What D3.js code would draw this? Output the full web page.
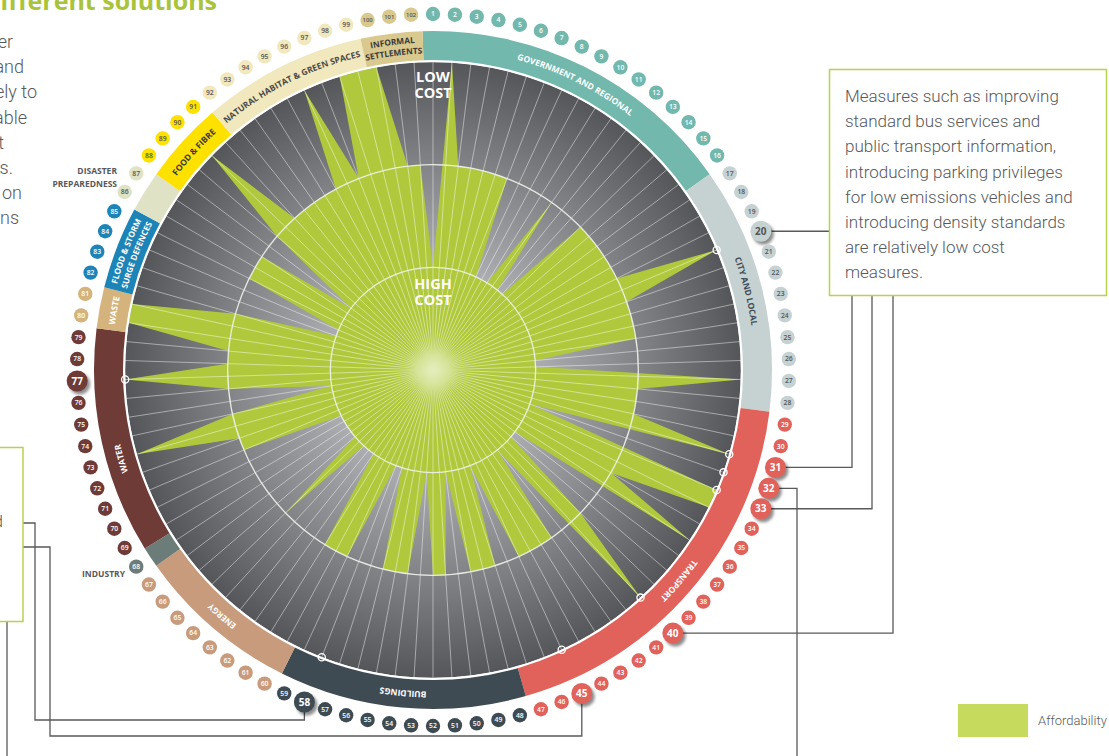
<!DOCTYPE html>
<html><head><meta charset="utf-8">
<script src="https://cdn.jsdelivr.net/npm/d3@7"></script>
<style>body{margin:0;background:#fff}svg{display:block}</style>
</head><body>
<svg id="chart" width="1109" height="756"></svg>
<script>
// Measures numbered 1..102 around the wheel; affordability score 0 (high cost, centre) .. 3 (low cost, rim)
const affordability = [
 1,3,2,2,2,2,2,1,1,1, 2,1,1,2,2,2,2,2,2,3,
 2,2,2,2,1,1,3,2,2,2, 3,1,3,3,2,3,1,1,2,3,
 1,2,2,2,2,1,2,2,2,1, 2,2,1,2,2,2,1,1,2,2,
 2,1,1,1,2,1,1,1,1,1, 2,2,3,2,1,2,3,2,2,3,
 3,2,1,1,2,2,2,1,2,3, 2,2,2,2,2,3,2,3,3,3,
 2,2
];
const highlighted = [20,31,32,33,40,45,58,77];

// Sector groups around the rim
const sectorLabels = [["GOVERNMENT AND REGIONAL"],["CITY AND LOCAL"],["TRANSPORT"],["BUILDINGS"],["ENERGY"],[],["WATER"],["WASTE"],["FLOOD & STORM","SURGE DEFENCES"],[],["FOOD & FIBRE"],["NATURAL HABITAT & GREEN SPACES"],["INFORMAL","SETTLEMENTS"]];
const sectorFirst = [1,17,29,48,60,68,69,80,82,86,88,92,100];
const sectorLast  = [16,28,47,59,67,68,79,81,85,87,91,99,102];
const sectorLabelAt = [8.5,22.5,38,53.5,63.5,68,73,80.5,83.5,86.5,89.5,95.5,101];
const sectorColors = ["#72b8ad","#c6d2d2","#e0625b","#3e4b53","#c79b7c","#6b7c79","#6e3b37","#d4b37c","#1c84b6","#dfe2c5","#ffe100","#f2e8bd","#d9c98e"];
const sectorInk = ["#fff","#3e4b53","#fff","#fff","#fff","#fff","#fff","#fff","#fff","#555","#3a3a3a","#4a4a4a","#3a3a3a"];

const noteLines = ["Measures such as improving","standard bus services and","public transport information,","introducing parking privileges","for low emissions vehicles and","introducing density standards","are relatively low cost","measures."];
const introFragments = ["er","and","ely to","able","t","ts.","on","ons"];
const introRightEdges = [13,24,37,27,4,13,22,19];

const svg = d3.select("#chart");
const cx = 433, cy = 370;
const rDisk = 308, rBandIn = 310, rBandOut = 339, rNum = 356;
const n = affordability.length;

const angle = d3.scaleLinear().domain([1, n + 1]).range([0, 2 * Math.PI]);
const radius = d3.scaleLinear().domain([0, 3]).range([0, rDisk]);
const pt = (a, r) => [cx + r * Math.sin(a), cy - r * Math.cos(a)];

const defs = svg.append("defs");
const g1 = defs.append("radialGradient").attr("id","disk").attr("cx",cx).attr("cy",cy).attr("r",rDisk).attr("gradientUnits","userSpaceOnUse");
[[0,"#d2d3d5"],[0.35,"#a9abae"],[0.7,"#7d7f82"],[1,"#55565a"]].forEach(s=>g1.append("stop").attr("offset",s[0]).attr("stop-color",s[1]));
const g2 = defs.append("radialGradient").attr("id","glow");
[[0,"#e4edbb",1],[0.5,"#d6e49a",0.8],[1,"#c4d670",0]].forEach(s=>g2.append("stop").attr("offset",s[0]).attr("stop-color",s[1]).attr("stop-opacity",s[2]));
const sh = defs.append("filter").attr("id","shadow").attr("x","-50%").attr("y","-50%").attr("width","200%").attr("height","200%");
sh.append("feGaussianBlur").attr("stdDeviation",1.8);

// Title and intro column
svg.append("text").attr("x",217).attr("y",10).attr("text-anchor","end")
  .attr("font-family","Open Sans").attr("font-weight",700).attr("font-size",25).attr("fill","#a9c43a")
  .text("different solutions");
svg.selectAll("text.intro").data(introFragments).join("text").attr("class","intro")
  .attr("x",(d,i)=>introRightEdges[i]).attr("y",(d,i)=>48+25.2*i).attr("text-anchor","end")
  .attr("font-family","Roboto").attr("font-weight",300).attr("font-size",18).attr("fill","#58595b").text(d=>d);

// Chart body
const wheel = svg.append("g");
wheel.append("circle").attr("cx",cx).attr("cy",cy).attr("r",rDisk).attr("fill","url(#disk)");

const radial = d3.lineRadial().angle((d,i)=>angle(i+1)).radius(d=>radius(d)).curve(d3.curveLinearClosed);
wheel.append("path").attr("transform",`translate(${cx},${cy})`).attr("d",radial(affordability)).attr("fill","#b0c93c");

wheel.selectAll("line.spoke").data(d3.range(1,n+1)).join("line").attr("class","spoke")
  .attr("x1",cx).attr("y1",cy)
  .attr("x2",d=>pt(angle(d),rDisk)[0]).attr("y2",d=>pt(angle(d),rDisk)[1])
  .attr("stroke","#fff").attr("stroke-opacity",0.5).attr("stroke-width",0.9);

wheel.append("circle").attr("cx",cx).attr("cy",cy).attr("r",32).attr("fill","url(#glow)");
wheel.selectAll("circle.ring").data([1,2]).join("circle").attr("class","ring")
  .attr("cx",cx).attr("cy",cy).attr("r",d=>radius(d)).attr("fill","none")
  .attr("stroke","#f2f2ee").attr("stroke-opacity",0.9).attr("stroke-width",1.3);
wheel.append("circle").attr("cx",cx).attr("cy",cy).attr("r",rDisk+0.5).attr("fill","none").attr("stroke","#fff").attr("stroke-width",1.5);

// Sector band
const band = d3.arc().innerRadius(rBandIn).outerRadius(rBandOut);
wheel.selectAll("path.band").data(sectorFirst).join("path").attr("class","band")
  .attr("transform",`translate(${cx},${cy})`)
  .attr("d",(d,i)=>band({startAngle:angle(d-0.5),endAngle:angle(sectorLast[i]+0.5)}))
  .attr("fill",(d,i)=>sectorColors[i]);

function arcPath(a, r){
  const a0 = a - 1.3, a1 = a + 1.3;
  const p0 = pt(a0,r), p1 = pt(a1,r);
  return `M${p0[0]},${p0[1]}A${r},${r} 0 0 1 ${p1[0]},${p1[1]}`;
}
sectorLabels.forEach((lines,i)=>{
  const a = angle(sectorLabelAt[i]);
  const radii = lines.length === 2 ? [327.5,316.5] : [321.5];
  lines.forEach((t,j)=>{
    const id = `lab${i}_${j}`;
    defs.append("path").attr("id",id).attr("d",arcPath(a,radii[j]));
    wheel.append("text").attr("font-family","Open Sans").attr("font-weight",700)
      .attr("font-size",lines.length===2?8.3:8.5).attr("fill",sectorInk[i])
      .append("textPath").attr("href","#"+id).attr("startOffset","50%").attr("text-anchor","middle").text(t);
  });
});

// Outside group names without a band label
svg.append("text").attr("x",117).attr("y",174).attr("text-anchor","end").attr("font-family","Open Sans").attr("font-weight",700).attr("font-size",8.5).attr("fill","#58595b").text("DISASTER");
svg.append("text").attr("x",117).attr("y",187).attr("text-anchor","end").attr("font-family","Open Sans").attr("font-weight",700).attr("font-size",8.5).attr("fill","#58595b").text("PREPAREDNESS");
svg.append("text").attr("x",125).attr("y",577).attr("text-anchor","end").attr("font-family","Open Sans").attr("font-weight",700).attr("font-size",8.5).attr("fill","#58595b").text("INDUSTRY");

// Low / high cost captions
[["LOW",82],["COST",98]].forEach(d=>svg.append("text").attr("x",cx).attr("y",d[1]).attr("text-anchor","middle").attr("font-family","Open Sans").attr("font-weight",700).attr("font-size",14.5).attr("fill","#fff").text(d[0]));
[["HIGH",289],["COST",305]].forEach(d=>svg.append("text").attr("x",cx).attr("y",d[1]).attr("text-anchor","middle").attr("font-family","Open Sans").attr("font-weight",700).attr("font-size",14.5).attr("fill","#fff").text(d[0]));

// Markers at the rim for highlighted measures
wheel.selectAll("circle.marker").data(highlighted).join("circle").attr("class","marker")
  .attr("cx",d=>pt(angle(d),rDisk)[0]).attr("cy",d=>pt(angle(d),rDisk)[1]).attr("r",3.6)
  .attr("fill","none").attr("stroke","#fff").attr("stroke-width",1.3);

// Leader lines and note boxes
const numPos = k => pt(angle(k), rNum);
const lead = svg.append("g").attr("fill","none").attr("stroke","#58595b").attr("stroke-width",1.3);
const p20 = numPos(20), p31 = numPos(31), p32 = numPos(32), p33 = numPos(33), p40 = numPos(40), p45 = numPos(45), p58 = numPos(58);
lead.append("path").attr("d",`M${p20[0]},${p20[1]}H829`);
lead.append("path").attr("d",`M${p31[0]},${p31[1]}H852V296`);
lead.append("path").attr("d",`M${p33[0]},${p33[1]}H872V296`);
lead.append("path").attr("d",`M${p40[0]},${p40[1]}H893V296`);
lead.append("path").attr("d",`M${p32[0]},${p32[1]}H797V756`);
lead.append("path").attr("d",`M${p58[0]},${p58[1]}V720H35V523H23`);
lead.append("path").attr("d",`M${p45[0]},${p45[1]}V736H50V547H23`);
lead.append("path").attr("d",`M7,622V756`);

svg.append("rect").attr("x",829.5).attr("y",69.5).attr("width",277).attr("height",226).attr("fill","#fff").attr("stroke","#b9d24e").attr("stroke-width",1.5);
svg.selectAll("text.note").data(noteLines).join("text").attr("class","note")
  .attr("x",845).attr("y",(d,i)=>102+25.2*i).attr("font-family","Roboto").attr("font-weight",300)
  .attr("font-size",17).attr("fill","#58595b").text(d=>d);
svg.append("rect").attr("x",-5).attr("y",447.5).attr("width",28).attr("height",174).attr("fill","#fff").attr("stroke","#b9d24e").attr("stroke-width",1.5);
svg.append("text").attr("x",3).attr("y",527).attr("text-anchor","end").attr("font-family","Roboto").attr("font-weight",300).attr("font-size",17).attr("fill","#58595b").text("d");

// Numbered discs
const sectorOf = k => sectorFirst.findIndex((f,i)=>k>=f && k<=sectorLast[i]);
const nums = svg.append("g").selectAll("g").data(d3.range(1,n+1)).join("g")
  .attr("transform",d=>`translate(${numPos(d)[0]},${numPos(d)[1]})`);
nums.filter(d=>highlighted.includes(d)).append("circle").attr("cx",2.5).attr("cy",3).attr("r",10.5)
  .attr("fill","#000").attr("opacity",0.45).attr("filter","url(#shadow)");
nums.append("circle").attr("r",d=>highlighted.includes(d)?10.5:7.2).attr("fill",d=>sectorColors[sectorOf(d)]);
nums.append("text").attr("text-anchor","middle").attr("dy",d=>highlighted.includes(d)?"0.36em":"0.35em")
  .attr("font-family","Open Sans").attr("font-weight",d=>highlighted.includes(d)?700:600)
  .attr("font-size",d=>highlighted.includes(d)?10:d>99?5.8:6.8)
  .attr("fill",d=>sectorInk[sectorOf(d)]==="#fff"?"#fff":"#555").text(d=>d);

// Legend
svg.append("rect").attr("x",958).attr("y",704).attr("width",70).attr("height",33).attr("fill","#c6da5e");
svg.append("text").attr("x",1038).attr("y",725).attr("font-family","Roboto").attr("font-weight",300).attr("font-size",13).attr("fill","#58595b").text("Affordability");
</script>
</body></html>
